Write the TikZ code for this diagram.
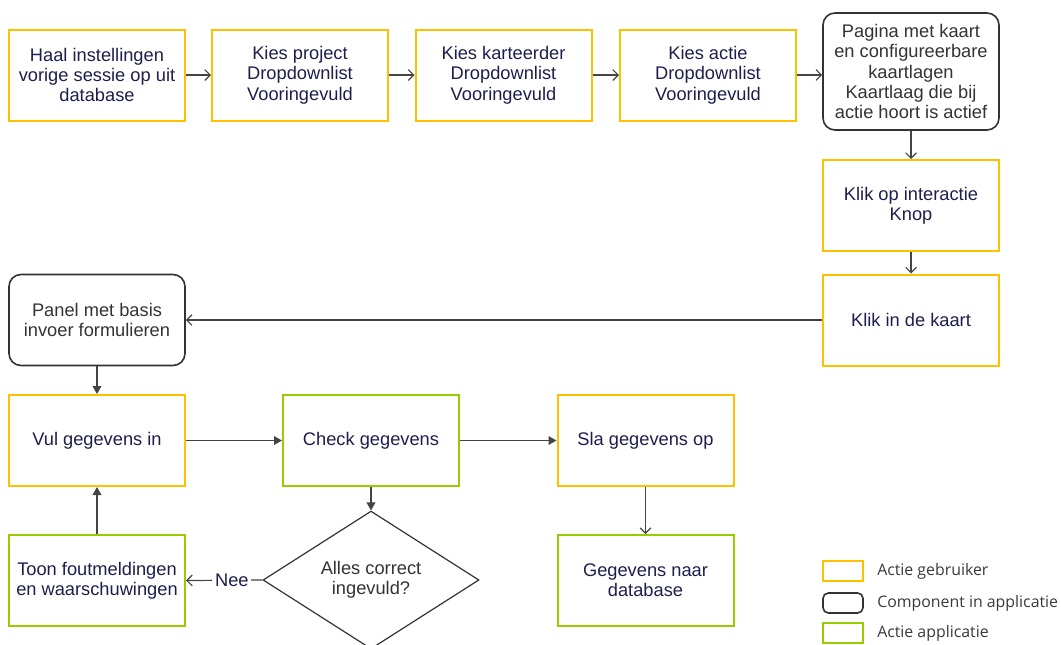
\documentclass[tikz,border=0pt]{standalone}
\usepackage{fontspec}
\setmainfont{Liberation Sans}
\newfontfamily\legendfont{Open Sans}
\usetikzlibrary{arrows.meta,shapes.geometric}
\definecolor{useryellow}{HTML}{FFC000}
\definecolor{appgreen}{HTML}{99CC00}
\definecolor{compgray}{HTML}{333333}
\definecolor{navytext}{HTML}{1E1E4E}
\definecolor{linegray}{HTML}{444444}
\definecolor{legendtext}{HTML}{3A3A3A}
\tikzset{
  box/.style={minimum width=132pt, minimum height=68.25pt, align=center,
    inner sep=2pt, font=\fontsize{13.7}{15.3}\selectfont},
  userbox/.style={box, draw=useryellow, line width=1.5pt, text=navytext},
  appbox/.style={box, draw=appgreen, line width=1.5pt, text=navytext},
  compbox/.style={box, draw=compgray, line width=1.2pt, rounded corners=9pt, text=compgray},
  decision/.style={diamond, draw=compgray, line width=0.9pt, minimum width=162pt,
    minimum height=94.5pt, inner sep=0pt, align=center, text=compgray,
    font=\fontsize{13.7}{15.3}\selectfont},
  openarrow/.style={draw=linegray, line width=0.9pt, -{Straight Barb[length=4pt,width=8pt]}},
  fillarrow/.style={draw=linegray, line width=1.1pt, -{Triangle[length=6pt,width=6.5pt]}},
  legbox/.style={minimum width=30pt, minimum height=15pt, inner sep=0pt},
  legtext/.style={anchor=west, inner sep=0pt, text=legendtext,
    font=\legendfont\fontsize{11.9}{13}\selectfont},
}
\begin{document}
\begin{tikzpicture}[x=0.75pt,y=-0.75pt]
\useasboundingbox (0,0) rectangle (1061,644);

% top row
\node[userbox] (haal) at (97,75) {Haal instellingen\\vorige sessie op uit\\database};
\node[userbox] (project) at (300,75) {Kies project\\Dropdownlist\\Vooringevuld};
\node[userbox] (karteerder) at (503.5,75) {Kies karteerder\\Dropdownlist\\Vooringevuld};
\node[userbox] (actie) at (708,75) {Kies actie\\Dropdownlist\\Vooringevuld};
\node[compbox, minimum height=87.75pt] (pagina) at (911,71.5)
  {Pagina met kaart\\en configureerbare\\kaartlagen\\Kaartlaag die bij\\actie hoort is actief};

% right column
\node[userbox] (knop) at (911,205.5) {Klik op interactie\\Knop};
\node[userbox] (kaart) at (911,320) {Klik in de kaart};

% left / lower part
\node[compbox] (panel) at (97,320) {Panel met basis\\invoer formulieren};
\node[userbox] (vul) at (97,440.5) {Vul gegevens in};
\node[appbox] (check) at (371,440.5) {Check gegevens};
\node[userbox] (sla) at (645.5,440.5) {Sla gegevens op};
\node[appbox] (naar) at (645.5,580.5) {Gegevens naar\\database};
\node[appbox] (toon) at (97,580.5) {Toon foutmeldingen\\en waarschuwingen};
\node[decision] (correct) at (371,580) {Alles correct\\ingevuld?};

% connectors
\draw[openarrow] (haal) -- (project);
\draw[openarrow] (project) -- (karteerder);
\draw[openarrow] (karteerder) -- (actie);
\draw[openarrow] (actie) -- (actie.east -| pagina.west);
\draw[openarrow] (pagina) -- (knop);
\draw[openarrow] (knop) -- (kaart);
\draw[openarrow] (kaart) -- (panel);
\draw[fillarrow] (panel) -- (vul);
\draw[fillarrow] (vul) -- (check);
\draw[fillarrow] (check) -- (sla);
\draw[openarrow] (sla) -- (naar);
\draw[fillarrow] (check) -- (correct);
\draw[openarrow] (correct.west) -- node[pos=0.4, fill=white, inner sep=2pt, text=navytext,
  font=\fontsize{13.7}{15.3}\selectfont] {Nee} (toon.east);
\draw[fillarrow] (toon) -- (vul);

% legend
\node[legbox, draw=useryellow, line width=1.2pt] (lguser) at (843,571) {};
\node[legbox, draw=compgray, line width=1.2pt, rounded corners=4pt] (lgcomp) at (843,603) {};
\node[legbox, draw=appgreen, line width=1.2pt] (lgapp) at (843,633) {};
\node[legtext] (tguser) at (877,571) {Actie gebruiker};
\node[legtext] (tgcomp) at (877,603) {Component in applicatie};
\node[legtext] (tgapp) at (877,633) {Actie applicatie};
\end{tikzpicture}
\end{document}
